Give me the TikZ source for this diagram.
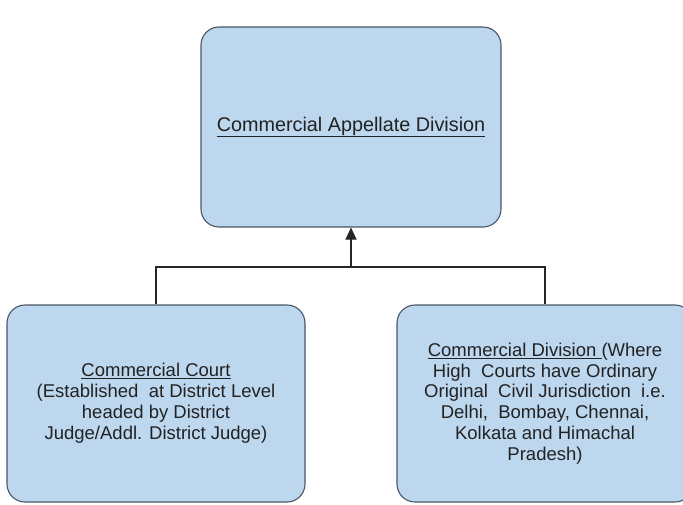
\documentclass[tikz,border=0pt]{standalone}
\usepackage{fontspec}
\setmainfont{Liberation Sans}
\usetikzlibrary{arrows.meta}
\definecolor{boxfill}{HTML}{BDD7EE}
\definecolor{boxline}{HTML}{4A5566}
\definecolor{txt}{HTML}{222222}
\tikzset{
  court/.style={draw=boxline, line width=1.1pt, fill=boxfill, rounded corners=18pt,
    align=center, text=txt, inner sep=0pt},
  link/.style={draw=black!85, line width=1.1pt},
  uparrow/.style={link, -{Triangle[length=12pt,width=11pt]}}
}
\begin{document}
\begin{tikzpicture}[x=1pt,y=-1pt]
\useasboundingbox (0,0) rectangle (683,504);
\clip (0,0) rectangle (683,504);
\fill[white] (0,0) rectangle (683,504);
\node[court, minimum width=300pt, minimum height=200pt,
  font=\fontsize{19.8}{22}\selectfont] (top) at (351,127)
  {\underline{Commercial Appellate Division}};
\node[court, minimum width=298pt, minimum height=197pt,
  font=\fontsize{18.5}{21}\selectfont] (left) at (156,403.5)
  {\underline{Commercial Court}\\(Established\ \ at District Level\\headed by District\\Judge/Addl. District Judge)};
\node[court, minimum width=296pt, minimum height=197pt,
  font=\fontsize{18.5}{20.8}\selectfont] (right) at (545,403.5)
  {\underline{Commercial Division\ }(Where\\High\ \ Courts have Ordinary\\Original\ \ Civil Jurisdiction\ \ i.e.\\Delhi,\ \ Bombay, Chennai,\\Kolkata and Himachal\\Pradesh)};
\coordinate (j) at (351,267);
\draw[link] (left.north) |- (j) -| (right.north);
\draw[uparrow] (j) -- (top.south);
\end{tikzpicture}
\end{document}
